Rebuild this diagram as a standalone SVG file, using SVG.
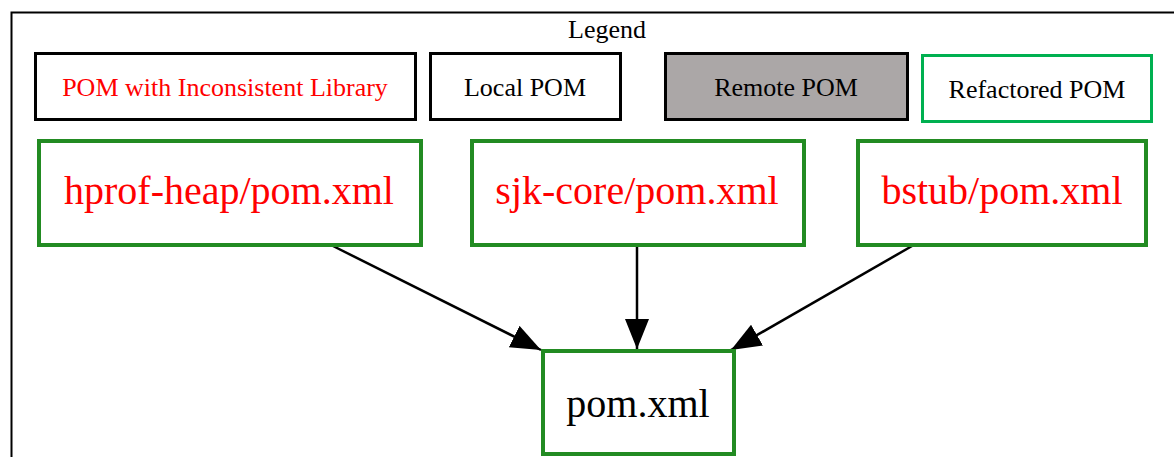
<svg xmlns="http://www.w3.org/2000/svg" width="1174" height="457" viewBox="0 0 1174 457">
<style>
  .t { font-family: 'Liberation Serif', 'DejaVu Serif', serif; text-anchor: middle; }
  .leg { font-size: 26px; }
  .lbox { fill: #ffffff; stroke: #000000; stroke-width: 3; }
  .node rect { fill: #ffffff; stroke: #228b22; stroke-width: 4; }
  .nt { font-size: 40px; fill: #ff0000; }
  .edge { stroke: #000000; stroke-width: 2.5; fill: none; marker-end: url(#arrow); }
</style>
<defs>
  <marker id="arrow" markerUnits="userSpaceOnUse" markerWidth="32" markerHeight="26" refX="30" refY="12" orient="auto">
    <path d="M0,0 L30,12 L0,24 z" fill="#000000"/>
  </marker>
</defs>
<rect width="1174" height="457" fill="#ffffff"/>
<g id="frame">
  <path d="M11.5,457 L11.5,12.5 L1174,12.5" fill="none" stroke="#000000" stroke-width="2"/>
</g>
<g id="legend">
  <text class="t leg" x="607" y="38">Legend</text>
  <g id="legend-inconsistent">
    <rect class="lbox" x="35.5" y="53.5" width="380" height="66"/>
    <text class="t leg" x="225" y="96" fill="#ff0000">POM with Inconsistent Library</text>
  </g>
  <g id="legend-local">
    <rect class="lbox" x="430.5" y="53.5" width="190" height="66"/>
    <text class="t leg" x="525" y="96">Local POM</text>
  </g>
  <g id="legend-remote">
    <rect class="lbox" x="665.5" y="53.5" width="242" height="66" style="fill:#aba7a7"/>
    <text class="t leg" x="786" y="96">Remote POM</text>
  </g>
  <g id="legend-refactored">
    <rect x="922.5" y="55.5" width="229" height="66" fill="#ffffff" stroke="#00b050" stroke-width="3"/>
    <text class="t leg" x="1037" y="98">Refactored POM</text>
  </g>
</g>
<g id="connectors">
  <line class="edge" x1="333" y1="246" x2="541" y2="350"/>
  <line class="edge" x1="637" y1="246" x2="637" y2="349"/>
  <line class="edge" x1="912" y1="246" x2="731" y2="350"/>
</g>
<g id="node-hprof" class="node">
  <rect x="39" y="141" width="382" height="104"/>
  <text class="t nt" x="229" y="204">hprof-heap/pom.xml</text>
</g>
<g id="node-sjk" class="node">
  <rect x="472" y="141" width="332" height="104"/>
  <text class="t nt" x="637" y="204">sjk-core/pom.xml</text>
</g>
<g id="node-bstub" class="node">
  <rect x="858" y="141" width="288" height="104"/>
  <text class="t nt" x="1002" y="204">bstub/pom.xml</text>
</g>
<g id="node-pom" class="node">
  <rect x="543" y="351" width="191" height="103"/>
  <text class="t nt" x="638" y="417" style="fill:#000000">pom.xml</text>
</g>
</svg>
